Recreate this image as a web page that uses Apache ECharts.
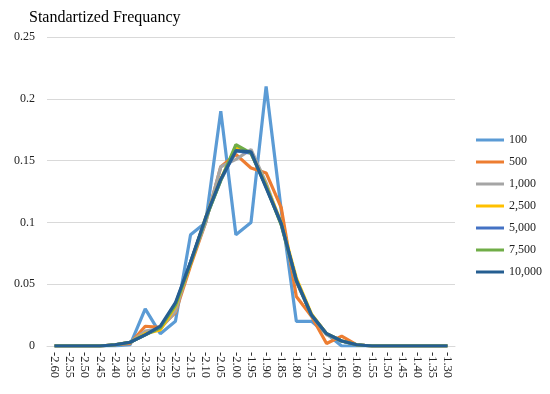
<!DOCTYPE html>
<html>
<head>
<meta charset="utf-8">
<script src="https://cdn.jsdelivr.net/npm/echarts@6/dist/echarts.min.js"></script>
<style>html,body{margin:0;padding:0;background:#fff;}#c{width:550px;height:394px;}</style>
</head>
<body>
<div id="c"></div>
<script>
var categories = ['-2.60','-2.55','-2.50','-2.45','-2.40','-2.35','-2.30','-2.25','-2.20','-2.15','-2.10','-2.05','-2.00','-1.95','-1.90','-1.85','-1.80','-1.75','-1.70','-1.65','-1.60','-1.55','-1.50','-1.45','-1.40','-1.35','-1.30'];
var seriesNames = ['100','500','1,000','2,500','5,000','7,500','10,000'];
var s100   = [0,0,0,0,0,0.001,0.03,0.01,0.02,0.09,0.10,0.19,0.09,0.10,0.21,0.11,0.02,0.02,0.01,0,0,0,0,0,0,0,0];
var s500   = [0,0,0,0,0.001,0.002,0.016,0.015,0.027,0.065,0.10,0.145,0.155,0.144,0.14,0.112,0.04,0.024,0.002,0.008,0.001,0,0,0,0,0,0];
var s1000  = [0,0,0,0,0.001,0.003,0.012,0.014,0.028,0.068,0.10,0.145,0.151,0.159,0.132,0.098,0.052,0.025,0.009,0.004,0.001,0,0,0,0,0,0];
var s2500  = [0,0,0,0,0.001,0.003,0.010,0.013,0.032,0.067,0.104,0.135,0.161,0.156,0.13,0.10,0.055,0.026,0.010,0.004,0.001,0,0,0,0,0,0];
var s5000  = [0,0,0,0,0.001,0.003,0.009,0.015,0.034,0.068,0.103,0.134,0.158,0.156,0.129,0.099,0.053,0.025,0.010,0.004,0.001,0,0,0,0,0,0];
var s7500  = [0,0,0,0,0.001,0.003,0.009,0.015,0.033,0.067,0.103,0.134,0.163,0.156,0.129,0.098,0.053,0.025,0.010,0.004,0.001,0,0,0,0,0,0];
var s10000 = [0,0,0,0,0.001,0.003,0.009,0.016,0.035,0.068,0.104,0.135,0.158,0.157,0.128,0.099,0.053,0.025,0.010,0.004,0.001,0,0,0,0,0,0];
var yTicks = [0, 0.05, 0.1, 0.15, 0.2, 0.25];

var allData = [s100, s500, s1000, s2500, s5000, s7500, s10000];
var colors = ['#5B9BD5','#ED7D31','#A5A5A5','#FFC000','#4472C4','#70AD47','#255E91'];
var font = '"Liberation Serif", "Times New Roman", serif';

var chart = echarts.init(document.getElementById('c'));
chart.setOption({
  animation: false,
  color: colors,
  title: {
    text: 'Standartized Frequancy',
    left: 24, top: 5,
    textStyle: {fontFamily: font, fontSize: 16, fontWeight: 'normal', color: '#000'}
  },
  legend: {
    orient: 'vertical',
    left: 476, top: 133,
    padding: 0,
    icon: 'rect',
    itemWidth: 28, itemHeight: 3,
    itemGap: 8,
    textStyle: {fontFamily: font, fontSize: 12, color: '#222', lineHeight: 14},
    data: seriesNames
  },
  grid: {left: 47, right: 95, top: 37, bottom: 48, containLabel: false},
  xAxis: {
    type: 'category',
    data: categories,
    boundaryGap: true,
    axisLine: {show: true, lineStyle: {color: '#D9D9D9', width: 1}},
    axisTick: {show: false},
    axisLabel: {interval: 0, rotate: -90, margin: 6, fontFamily: font, fontSize: 12.5, color: '#222'}
  },
  yAxis: {
    type: 'value',
    min: yTicks[0], max: yTicks[yTicks.length-1], interval: 0.05,
    axisLine: {show: false},
    axisTick: {show: false},
    splitLine: {lineStyle: {color: '#D9D9D9', width: 1}},
    axisLabel: {margin: 12, fontFamily: font, fontSize: 12, color: '#222',
      formatter: function(v){ return String(Math.round(v*100)/100); }}
  },
  series: seriesNames.map(function(n, i){
    return {
      name: n, type: 'line', data: allData[i],
      showSymbol: false, symbol: 'none',
      lineStyle: {width: 3.2, color: colors[i]},
      itemStyle: {color: colors[i]},
      z: 2 + i
    };
  })
});
</script>
</body>
</html>
